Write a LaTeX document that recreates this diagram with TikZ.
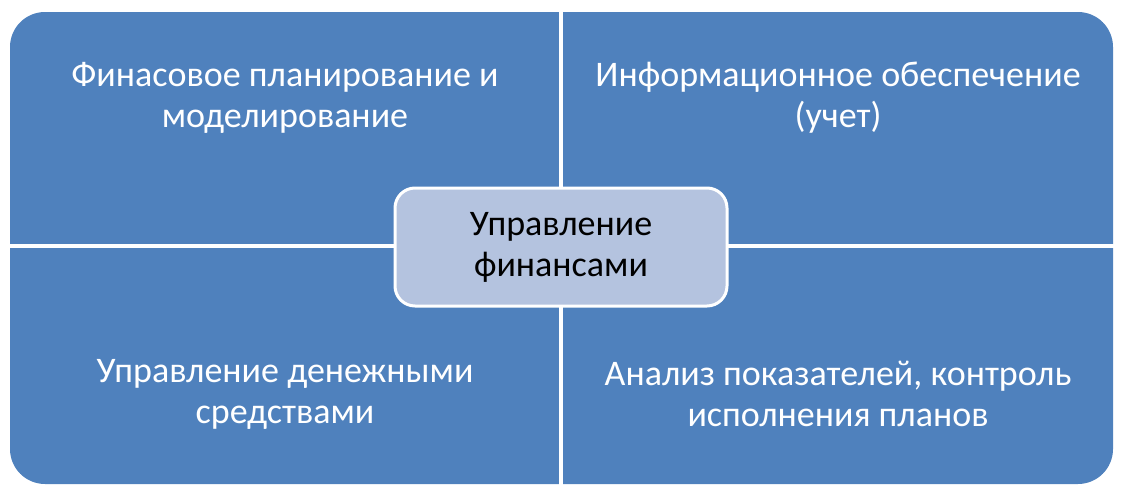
\documentclass[tikz,border=0pt]{standalone}
\usepackage{fontspec}
\setmainfont{Carlito}
\begin{document}
\begin{tikzpicture}[x=1pt,y=-1pt,
  quad/.style={text=white,font=\fontsize{36}{41}\selectfont,align=center},
  center/.style={draw=white,line width=3pt,fill=cbox,rounded corners=20pt,minimum width=332pt,minimum height=118pt,font=\fontsize{36}{41}\selectfont,align=center,text=black}]
\definecolor{qblue}{HTML}{4F81BD}
\definecolor{cbox}{HTML}{B4C3DF}
\useasboundingbox (0,0) rectangle (1122,498);
\fill[qblue,rounded corners=35pt] (10,12) rectangle (1113,484);
\draw[white,line width=4pt] (561,10) -- (561,486);
\draw[white,line width=4pt] (8,246) -- (1115,246);
\node[quad] (tl) at (285,98) {Финасовое планирование и\\моделирование};
\node[quad] (tr) at (838,98) {Информационное обеспечение\\(учет)};
\node[quad] (bl) at (285,394) {Управление денежными\\средствами};
\node[quad] (br) at (838,394) {Анализ показателей, контроль\\исполнения планов};
\node[center] (c) at (561,247) {Управление\\финансами};
\end{tikzpicture}
\end{document}
